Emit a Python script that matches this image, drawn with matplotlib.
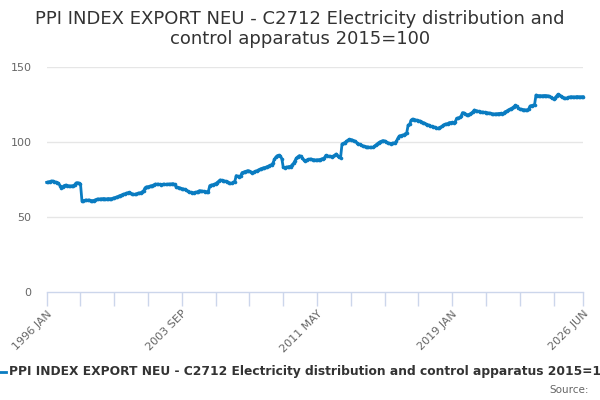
import matplotlib
matplotlib.use("Agg")
import matplotlib.pyplot as plt
import numpy as np

months = ["JAN", "FEB", "MAR", "APR", "MAY", "JUN", "JUL", "AUG", "SEP", "OCT", "NOV", "DEC"]
start_year = 1996

values = [
    73.1, 73.3, 73.6, 73.9, 74.0, 73.6, 73.3, 73.0, 72.5, 71.0, 69.6, 70.3,
    71.0, 71.3, 71.0, 70.8, 70.6, 70.8, 70.7, 71.5, 72.7, 72.9, 72.4, 72.0,
    60.7, 60.8, 61.1, 61.3, 61.2, 61.3, 61.0, 60.9, 61.0, 61.4, 61.8, 62.0,
    62.0, 62.1, 62.2, 62.3, 62.0, 62.1, 62.3, 62.2, 62.2, 62.5, 62.8, 63.1,
    63.4, 63.9, 64.3, 64.7, 65.1, 65.4, 65.8, 66.1, 66.4, 66.0, 65.5, 65.1,
    65.1, 65.4, 65.8, 66.0, 66.2, 66.8, 67.6, 69.5, 70.2, 70.1, 70.5, 70.7,
    71.0, 71.5, 72.0, 71.8, 71.9, 71.7, 71.6, 71.8, 71.9, 71.7, 71.8, 72.0,
    71.9, 72.1, 72.2, 71.8, 70.2, 69.8, 69.6, 69.2, 68.9, 68.7, 68.4, 67.8,
    67.2, 66.7, 66.5, 66.3, 66.2, 66.4, 66.6, 67.0, 67.6, 67.3, 67.2, 67.1,
    67.0, 66.9, 67.0, 70.9, 71.3, 71.5, 71.8, 72.2, 73.0, 73.8, 74.7, 74.5,
    74.2, 74.0, 73.8, 73.6, 73.0, 72.4, 72.6, 73.2, 73.6, 77.6, 77.2, 76.9,
    77.5, 79.6, 79.9, 80.3, 80.6, 80.9, 80.5, 80.0, 79.6, 80.0, 80.4, 80.8,
    81.3, 81.8, 82.2, 82.6, 82.9, 83.1, 83.5, 84.0, 84.5, 84.7, 86.0, 88.5,
    90.0, 90.9, 91.2, 90.4, 89.0, 83.1, 83.0, 83.2, 83.4, 83.6, 83.5, 84.8,
    85.8, 87.5, 89.3, 90.2, 90.9, 90.5, 89.2, 88.0, 87.6, 88.0, 88.4, 88.6,
    88.6, 88.3, 88.2, 88.0, 88.1, 88.2, 88.3, 88.6, 89.0, 89.5, 91.1, 90.8,
    90.5, 90.4, 90.2, 90.6, 91.2, 92.0, 91.0, 89.8, 89.6, 98.7, 99.2, 99.6,
    100.4, 101.2, 101.8, 101.6, 101.3, 100.9, 100.4, 99.6, 98.9, 98.4, 97.9, 97.5,
    97.1, 96.9, 96.7, 96.6, 96.4, 96.5, 96.4, 97.2, 98.0, 98.8, 99.6, 100.2,
    100.6, 100.9, 100.7, 100.2, 99.6, 99.1, 99.0, 99.1, 99.3, 99.1, 100.5, 102.5,
    104.0, 104.3, 104.5, 104.7, 105.5, 106.0, 111.3, 111.8, 114.5, 115.3, 115.0, 114.7,
    114.5, 114.2, 114.0, 113.6, 113.0, 112.6, 112.0, 111.6, 111.3, 110.7, 110.4, 110.2,
    109.9, 109.5, 109.1, 109.4, 109.9, 110.4, 111.3, 111.8, 112.0, 112.3, 112.9, 113.0,
    113.1, 113.0, 113.3, 115.8, 116.0, 116.4, 117.2, 119.6, 119.3, 118.8, 118.0, 118.2,
    118.7, 119.2, 120.1, 121.3, 121.0, 120.6, 120.4, 120.2, 120.0, 119.9, 119.7, 119.6,
    119.5, 119.3, 119.1, 118.9, 118.7, 118.7, 118.8, 118.9, 119.0, 119.1, 119.0, 119.2,
    120.2, 120.6, 121.2, 121.8, 122.2, 122.8, 123.6, 124.4, 123.8, 122.4, 122.0, 121.8,
    121.6, 121.5, 121.4, 121.3, 122.0, 124.0, 124.3, 124.5, 124.7, 131.3, 131.0, 130.9,
    130.9, 130.8, 130.9, 131.0, 130.9, 130.8, 130.4, 129.8, 129.2, 128.9, 129.5, 130.6,
    131.8, 131.3, 130.6, 130.0, 129.5, 129.1, 129.3, 129.7, 130.0, 130.2, 130.1, 130.0,
    130.1, 130.3, 130.2, 130.1, 130.2, 130.2,
]

series_name = "PPI INDEX EXPORT NEU - C2712 Electricity distribution and control apparatus 2015=100"
title = "PPI INDEX EXPORT NEU - C2712 Electricity distribution and\ncontrol apparatus 2015=100"
y_ticks = [0, 50, 100, 150]
tick_step = 23
label_step = 92

n = len(values)
idx = np.arange(n)

def month_label(i):
    return f"{start_year + i // 12} {months[i % 12]}"

fig = plt.figure(figsize=(6, 4), dpi=100)
ax = fig.add_axes([46.7 / 600, 1 - 292 / 400, (583 - 46.7) / 600, (292 - 67) / 400])

color = "#0a7cc1"
ax.plot(idx, values, color=color, linewidth=2.0, marker="o", markersize=2.6,
        markeredgewidth=0, solid_joinstyle="round", zorder=3, clip_on=False)

ax.set_xlim(0, n - 1)
ax.set_ylim(0, 150)

# grid
ax.set_yticks(y_ticks)
for yv in y_ticks[1:]:
    ax.axhline(yv, color="#e6e6e6", linewidth=1, zorder=1)
ax.tick_params(axis="y", length=0, labelsize=8, labelcolor="#666666", pad=11)
for lbl in ax.get_yticklabels():
    lbl.set_horizontalalignment("right")

ticks = list(range(0, n - 1, tick_step)) + [n - 1]
ticks = sorted(set(t for t in ticks if t <= n - 1))
if ticks[-1] - ticks[-2] < 10:
    ticks.pop(-2)
ax.set_xticks(ticks)
labels = []
for t in ticks:
    if t % label_step == 0 or t == n - 1:
        labels.append(month_label(t))
    else:
        labels.append("")
ax.set_xticklabels(labels, rotation=45, ha="right", rotation_mode="anchor")
ax.tick_params(axis="x", length=10, width=1, color="#ccd6eb", labelsize=8,
               labelcolor="#666666", pad=2)

for s in ["top", "right", "left"]:
    ax.spines[s].set_visible(False)
ax.spines["bottom"].set_color("#ccd6eb")
ax.spines["bottom"].set_linewidth(1)

fig.text(0.5, 1 - 29 / 400, title, ha="center", va="center", fontsize=13,
         color="#333333", linespacing=1.2)

# legend (clipped at figure edges like the reference)
fig.lines.append(plt.Line2D([-8 / 600, 6 / 600], [1 - 372 / 400] * 2,
                            transform=fig.transFigure, color=color, linewidth=2))
fig.text(9 / 600, 1 - 372 / 400, series_name, ha="left", va="center",
         fontsize=8.8, fontweight="bold", color="#333333")
fig.text(589 / 600, 1 - 390 / 400, "Source:", ha="right", va="center",
         fontsize=7.5, color="#666666")

fig.savefig("out.png", dpi=100, facecolor="white")
